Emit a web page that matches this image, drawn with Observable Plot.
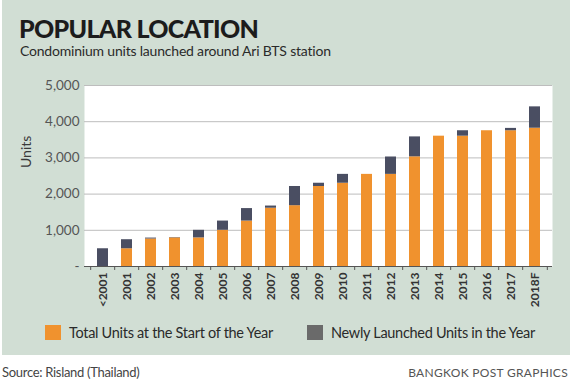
<!DOCTYPE html>
<html>
<head>
<meta charset="utf-8">
<script src="https://cdn.jsdelivr.net/npm/d3@7"></script>
<script src="https://cdn.jsdelivr.net/npm/@observablehq/plot@0.6"></script>
<style>
  body { margin: 0; background: #fff; font-family: Lato, "Open Sans", sans-serif; }
  #wrap { position: relative; width: 573px; height: 379px; overflow: hidden; }
  #panel { position: absolute; left: 2px; top: 0; width: 568px; height: 355px; background: #d1ded4; }
  #title { position: absolute; left: 19px; top: 16px; font-size: 25px; font-weight: 900; color: #1c1c1c; letter-spacing: -0.7px; line-height: 1; }
  #subtitle { position: absolute; left: 20px; top: 44px; font-size: 14px; color: #2a2a2a; letter-spacing: -0.2px; line-height: 1; }
  #chart { position: absolute; left: 0; top: 70px; }
  .leg { position: absolute; top: 325px; font-size: 14.5px; color: #2a2a2a; letter-spacing: -0.3px; display: flex; align-items: center; line-height: 15px; }
  .sw { width: 16px; height: 15px; margin-right: 8px; display: inline-block; }
  #source { position: absolute; left: 2px; top: 364px; font-size: 13px; color: #444; letter-spacing: -0.3px; }
  #credit { position: absolute; right: 5px; top: 365px; font-size: 12px; color: #555; letter-spacing: 0.3px; }
</style>
</head>
<body>
<div id="wrap">
  <div id="panel"></div>
  <div id="title">POPULAR LOCATION</div>
  <div id="subtitle">Condominium units launched around Ari BTS station</div>
  <div id="chart"></div>
  <div class="leg" style="left:45px"><span class="sw" style="background:#f0922e"></span>Total Units at the Start of the Year</div>
  <div class="leg" style="left:307px"><span class="sw" style="background:#6a6a6a"></span>Newly Launched Units in the Year</div>
  <div id="source">Source: Risland (Thailand)</div>
  <div id="credit">BANGKOK POST GRAPHICS</div>
</div>
<script>
const years = ["<2001","2001","2002","2003","2004","2005","2006","2007","2008","2009","2010","2011","2012","2013","2014","2015","2016","2017","2018F"];
const totalStart = [0, 490, 760, 790, 790, 1000, 1255, 1610, 1680, 2210, 2300, 2545, 2545, 3030, 3600, 3600, 3750, 3750, 3820];
const newlyLaunched = [490, 250, 25, 10, 210, 255, 345, 60, 530, 90, 245, 0, 480, 550, 0, 150, 0, 65, 590];
const yTicks = [0, 1000, 2000, 3000, 4000, 5000];
const seriesNames = ["Total Units at the Start of the Year", "Newly Launched Units in the Year"];
const colors = ["#f0922e", "#4a4e62"];

const rows = [];
years.forEach((y, i) => {
  rows.push({year: y, series: seriesNames[0], value: totalStart[i]});
  rows.push({year: y, series: seriesNames[1], value: newlyLaunched[i]});
});

const W = 573, mL = 84, mR = 21;
const step = (W - mL - mR) / years.length;

const chart = Plot.plot({
  width: W,
  height: 240,
  marginLeft: mL,
  marginRight: mR,
  marginTop: 15,
  marginBottom: 44,
  style: { fontFamily: "Lato, 'Open Sans', sans-serif", background: "transparent", overflow: "visible" },
  x: { domain: years, paddingInner: 0.55, paddingOuter: 0.275, label: null },
  y: { domain: [0, 5000], label: null },
  color: { domain: seriesNames, range: colors },
  marks: [
    Plot.frame({ fill: "white", stroke: null }),
    Plot.gridY(yTicks.filter(d => d > 0), { stroke: "#bdbdbd", strokeOpacity: 1, strokeWidth: 1 }),
    Plot.barY(rows, { x: "year", y: "value", fill: "series", order: seriesNames }),
    Plot.ruleY([0], { stroke: "#555", strokeWidth: 1.2 }),
    Plot.ruleX(years, { x: d => d, dx: -step / 2, y1: 0, y2: -110, stroke: "#555" }),
    Plot.ruleX([years[years.length - 1]], { x: d => d, dx: step / 2, y1: 0, y2: -110, stroke: "#555" }),
    Plot.axisY(yTicks, { tickSize: 0, tickPadding: 5, fontSize: 13.5, fill: "#555", tickFormat: d => d === 0 ? "-" : d3.format(",")(d) }),
    Plot.axisX({ tickSize: 0, tickPadding: 6, tickRotate: -90, fontSize: 12, fontWeight: "bold", fill: "#333" }),
    Plot.text(["Units"], { frameAnchor: "left", dx: -58, dy: -8, rotate: -90, fontSize: 14, fill: "#3a3a3a", text: d => d })
  ]
});
document.getElementById("chart").appendChild(chart);
</script>
</body>
</html>
